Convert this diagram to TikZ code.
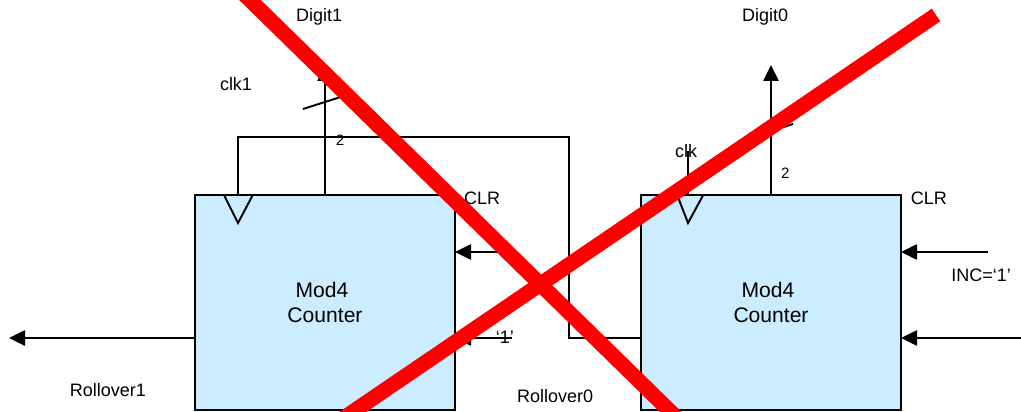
\documentclass[tikz,border=0pt]{standalone}
\usepackage{fontspec}
\setmainfont{Liberation Sans}
\usetikzlibrary{arrows.meta}
\definecolor{counterblue}{HTML}{CCECFF}

\begin{document}
\begin{tikzpicture}[
        counter/.style={draw, fill=counterblue, line width=1.4pt, minimum width=6.5cm, minimum height=5.375cm, outer sep=0pt, align=center, font=\fontsize{15}{17.8}\selectfont},
        wire/.style={line width=1.4pt},
        signal/.style={line width=1.4pt, -{Triangle[length=0.4cm,width=0.38cm]}},
        label/.style={font=\fontsize{12.8}{15}\selectfont},
        buswidth/.style={font=\fontsize{10.7}{12}\selectfont},
        cross/.style={draw=red, line width=10.8pt}
    ]
        \path[use as bounding box, clip] (0,0) rectangle (25.525,10.275);

        % Counters
        \node[counter] (counter1) at (8.125,2.7125) {Mod4\hspace*{0.15cm}\\Counter};
        \node[counter] (counter0) at (19.275,2.7125) {Mod4\hspace*{0.15cm}\\Counter};

        % Clock pins
        \coordinate (pin1) at (5.95,5.4);
        \coordinate (pin0) at (17.2,5.4);
        \draw[wire] (5.6,5.4) -- (5.95,4.7) -- (6.32,5.4);
        \draw[wire] (16.93,5.4) -- (17.2,4.7) -- (17.58,5.4);

        % Outputs
        \coordinate (digit1tip) at (8.125,8.65);
        \coordinate (digit0tip) at (19.275,8.65);
        \draw[signal] (counter1.north) -- (digit1tip);
        \draw[signal] (counter0.north) -- (digit0tip);
        \coordinate (slash1a) at (7.575,7.55);
        \coordinate (slash1b) at (8.675,7.9);
        \coordinate (slash0a) at (18.725,6.825);
        \coordinate (slash0b) at (19.825,7.175);
        \draw[wire] (slash1a) -- (slash1b);
        \draw[wire] (slash0a) -- (slash0b);

        % Rollover wire to clk1
        \coordinate (rollin0) at (16.025,1.825);
        \coordinate (clkturn) at (14.225,6.85);
        \draw[wire] (pin1) |- (clkturn) |- (rollin0);
        \coordinate (clk0top) at (17.2,6.5);
        \draw[wire] (pin0) -- (clk0top);

        % Inputs
        \coordinate (clr1end) at (12.75,3.975);
        \coordinate (clr1tip) at (11.375,3.975);
        \coordinate (inc1end) at (12.8,1.825);
        \coordinate (inc1tip) at (11.375,1.825);
        \coordinate (clr0end) at (24.7,3.975);
        \coordinate (clr0tip) at (22.525,3.975);
        \coordinate (inc0end) at (25.525,1.825);
        \coordinate (inc0tip) at (22.525,1.825);
        \coordinate (roll1out) at (4.875,1.825);
        \coordinate (roll1tip) at (0.225,1.825);
        \draw[signal] (clr1end) -- (clr1tip);
        \draw[signal] (inc1end) -- (inc1tip);
        \draw[signal] (clr0end) -- (clr0tip);
        \draw[signal] (inc0end) -- (inc0tip);
        \draw[signal] (roll1out) -- (roll1tip);

        % Labels
        \node[label] (digit1) at (7.98,9.85) {Digit1};
        \node[label] (digit0) at (19.13,9.85) {Digit0};
        \node[label] (clk1) at (5.9,8.18) {clk1};
        \node[label] (clk0) at (17.15,6.5) {clk};
        \node[label] (clr1) at (12.05,5.32) {CLR};
        \node[label] (clr0) at (23.22,5.32) {CLR};
        \node[label] (inc0) at (24.525,3.4) {INC=‘1’};
        \node[label] (inc1) at (12.62,1.85) {‘1’};
        \node[label] (rollover1) at (2.7,0.52) {Rollover1};
        \node[label] (rollover0) at (13.88,0.37) {Rollover0};
        \node[buswidth] (width1) at (8.5,6.78) {2};
        \node[buswidth] (width0) at (19.63,5.95) {2};

        % Crossed out
        \coordinate (crossa) at (6.0,10.52);
        \coordinate (crossb) at (17.0,-0.25);
        \coordinate (crossc) at (23.4,9.9);
        \coordinate (crossd) at (8.0,-0.58);
        \draw[cross] (crossa) -- (crossb);
        \draw[cross] (crossc) -- (crossd);
    \end{tikzpicture}
\end{document}
